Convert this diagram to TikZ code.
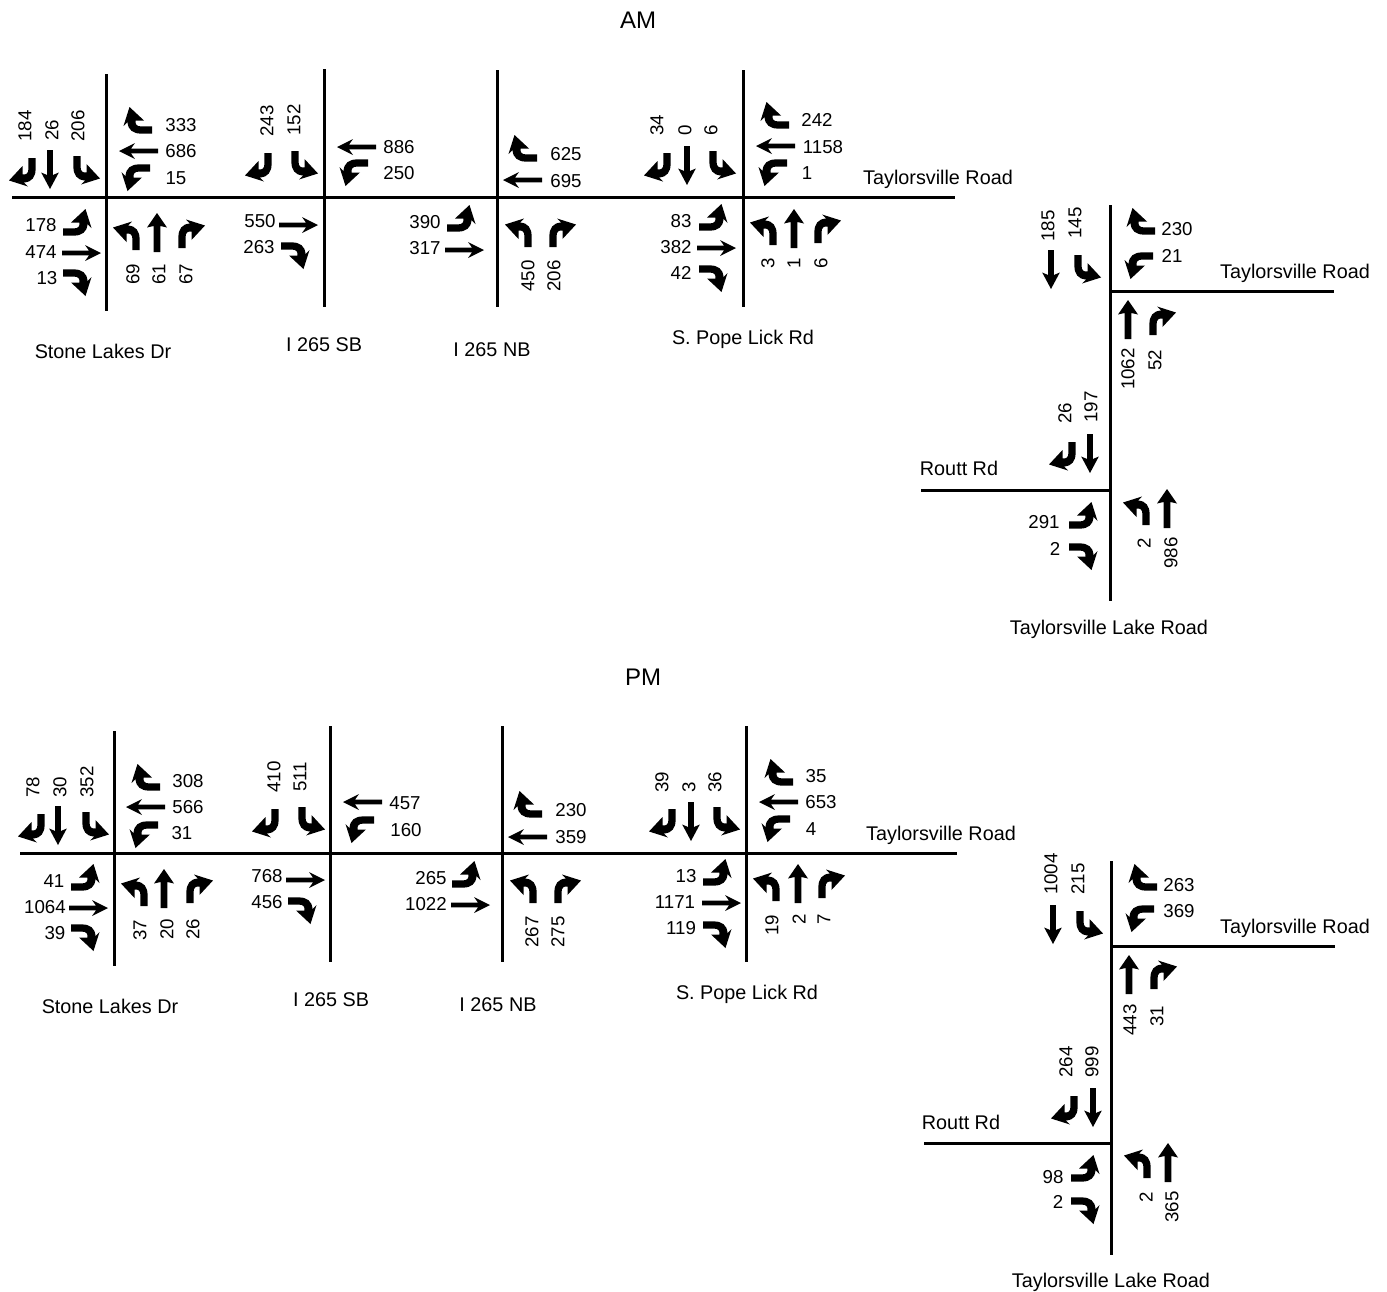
\documentclass[tikz,border=0pt]{standalone}
\usepackage{fontspec}
\setmainfont{Liberation Sans}
\tikzset{x=1pt,y=1pt,
 road/.style={line width=3pt,black},
 num/.style={inner sep=0pt,font=\fontsize{18.7}{20}\selectfont},
 vnum/.style={num,rotate=90},
 roadname/.style={inner sep=0pt,font=\fontsize{19.8}{22}\selectfont},
 titlelab/.style={inner sep=0pt,font=\fontsize{24}{26}\selectfont},
 tUR/.style={},
 tUL/.style={xscale=-1},
 tDR/.style={yscale=-1},
 tDL/.style={xscale=-1,yscale=-1},
 tLU/.style={rotate=90},
 tLD/.style={yscale=-1,rotate=90},
 tRU/.style={xscale=-1,rotate=90},
 tRD/.style={xscale=-1,yscale=-1,rotate=90},
 turnarrow/.pic={\fill (-3.6,0) -- (-3.6,11) .. controls (-3.6,19) and (0,24) .. (8,24.5) -- (4,28.5) -- (23,22.5) -- (9.5,8) -- (9.5,16.5) .. controls (5.5,17) and (3.6,15) .. (3.6,11) -- (3.6,0) -- cycle;},
 thickup/.pic={\fill (-3.4,0) -- (-3.4,26) -- (-10,24.5) -- (0,39) -- (10,24.5) -- (3.4,26) -- (3.4,0) -- cycle;},
 thindown/.pic={\fill (-2.9,0) -- (-2.9,-25) -- (-8.8,-22.5) -- (0,-39) -- (8.8,-22.5) -- (2.9,-25) -- (2.9,0) -- cycle;},
 thinright/.pic={\fill (0,-2.4) -- (27,-2.4) -- (23,-8) -- (39,0) -- (23,8) -- (27,2.4) -- (0,2.4) -- cycle;},
}
\newcommand\Tn[3]{\pic[t#1] at (#2,-#3) {turnarrow};}
\newcommand\Up[2]{\pic at (#1,-#2) {thickup};}
\newcommand\Dn[2]{\pic at (#1,-#2) {thindown};}
\newcommand\Ri[2]{\pic at (#1,-#2) {thinright};}
\newcommand\Le[2]{\pic[xscale=-1] at (#1,-#2) {thinright};}
\newcommand\Lb[3]{\node[num] at (#1,-#2) {#3};}
\newcommand\Vb[3]{\node[vnum] at (#1,-#2) {#3};}
\newcommand\Rn[3]{\node[roadname] at (#1,-#2) {#3};}
\begin{document}
\begin{tikzpicture}
\useasboundingbox (0,0) rectangle (1387,-1291);
\node[titlelab] (amtitle) at (638,-20) {AM};
\node[titlelab] (pmtitle) at (643,-677) {PM};
% ---------- AM roads
\draw[road] (12,-197.5) -- (955,-197.5);
\draw[road] (106,-74) -- (106,-311);
\draw[road] (324,-69) -- (324,-307);
\draw[road] (497,-70) -- (497,-307);
\draw[road] (743,-70) -- (743,-307);
\draw[road] (1110,-205) -- (1110,-601);
\draw[road] (1110,-291) -- (1334,-291);
\draw[road] (921,-490) -- (1110,-490);
\Rn{938}{179}{Taylorsville Road}
\Rn{103}{351}{Stone Lakes Dr}
\Rn{324}{344.5}{I 265 SB}
\Rn{492}{349.5}{I 265 NB}
\Rn{743}{339.5}{S. Pope Lick Rd}
\Rn{1295}{273}{Taylorsville Road}
\Rn{959}{468}{Routt Rd}
\Rn{1109}{629}{Taylorsville Lake Road}
% Stone Lakes AM
\Tn{DL}{32}{158}\Dn{50}{150}\Tn{DR}{77}{156}
\Vb{25}{126}{184}\Vb{52}{130}{26}\Vb{78}{126}{206}
\Tn{LU}{152}{130}\Le{158}{151}\Tn{LD}{150}{168}
\Lb{181}{125}{333}\Lb{181}{151}{686}\Lb{176}{178}{15}
\Tn{RU}{63}{232}\Ri{62}{253}\Tn{RD}{63}{273}
\Lb{41}{225}{178}\Lb{41}{252}{474}\Lb{47}{278}{13}
\Tn{UL}{136}{250}\Up{157}{252}\Tn{UR}{182}{248}
\Vb{133}{274}{69}\Vb{159}{274}{61}\Vb{186}{274}{67}
% SB AM
\Tn{DL}{268}{153}\Tn{DR}{295}{151}
\Vb{267}{121}{243}\Vb{294}{120}{152}
\Ri{279}{225}\Tn{RD}{281}{246}
\Lb{260}{221}{550}\Lb{259}{247}{263}
\Le{376}{147}\Tn{LD}{368}{163}
\Lb{399}{147}{886}\Lb{399}{173}{250}
% NB AM
\Tn{LU}{537}{158}\Le{542}{180}
\Lb{566}{154}{625}\Lb{566}{181}{695}
\Tn{RU}{447}{228}\Ri{445}{250}
\Lb{425}{222}{390}\Lb{425}{248}{317}
\Tn{UL}{528}{247}\Tn{UR}{553}{247}
\Vb{528}{276}{450}\Vb{554}{276}{206}
% Pope AM
\Tn{DL}{667}{153}\Dn{687}{146}\Tn{DR}{713}{151}
\Vb{657}{125}{34}\Vb{685}{130}{0}\Vb{711}{130}{6}
\Tn{LU}{789}{125}\Le{795}{146}\Tn{LD}{787}{163}
\Lb{817}{120}{242}\Lb{823}{147}{1158}\Lb{807}{173}{1}
\Tn{RU}{699}{227}\Ri{697}{248}\Tn{RD}{699}{269}
\Lb{681}{221}{83}\Lb{676}{247}{382}\Lb{681}{273}{42}
\Tn{UL}{773}{245}\Up{794}{248}\Tn{UR}{818}{243}
\Vb{768}{263}{3}\Vb{794}{263}{1}\Vb{821}{263}{6}
% right AM
\Dn{1051}{250}\Tn{DR}{1078}{255}
\Vb{1048}{226}{185}\Vb{1075}{223}{145}
\Tn{LU}{1155}{231}\Tn{LD}{1153}{256}
\Lb{1177}{229}{230}\Lb{1172}{256}{21}
\Up{1128}{339}\Tn{UR}{1153}{335}
\Vb{1128}{369}{1062}\Vb{1155}{360}{52}
\Tn{DL}{1072}{442}\Dn{1090}{434}
\Vb{1065}{413}{26}\Vb{1091}{407}{197}
\Tn{RU}{1069}{525}\Tn{RD}{1069}{547}
\Lb{1044}{522}{291}\Lb{1055}{549}{2}
\Tn{UL}{1146}{525}\Up{1167}{528}
\Vb{1144}{543}{2}\Vb{1171}{553}{986}
% ---------- PM roads
\draw[road] (20,-853.5) -- (957,-853.5);
\draw[road] (114,-731) -- (114,-966);
\draw[road] (330,-726) -- (330,-962);
\draw[road] (502,-726) -- (502,-962);
\draw[road] (746.5,-726) -- (746.5,-962);
\draw[road] (1111,-861) -- (1111,-1255);
\draw[road] (1111,-946) -- (1335,-946);
\draw[road] (924,-1143) -- (1111,-1143);
\Rn{941}{835}{Taylorsville Road}
\Rn{110}{1006}{Stone Lakes Dr}
\Rn{331}{999.5}{I 265 SB}
\Rn{498}{1004.5}{I 265 NB}
\Rn{747}{994.5}{S. Pope Lick Rd}
\Rn{1295}{928}{Taylorsville Road}
\Rn{961}{1122}{Routt Rd}
\Rn{1111}{1282}{Taylorsville Lake Road}
% Stone PM
\Tn{DL}{41}{814}\Dn{58}{806}\Tn{DR}{86}{812}
\Vb{33}{787}{78}\Vb{60}{787}{30}\Vb{87}{782}{352}
\Tn{LU}{160}{787}\Le{165}{807}\Tn{LD}{158}{825}
\Lb{188}{781}{308}\Lb{188}{807}{566}\Lb{182}{833}{31}
\Tn{RU}{71}{887}\Ri{69}{908}\Tn{RD}{71}{928}
\Lb{54}{881}{41}\Lb{45}{907}{1064}\Lb{55}{933}{39}
\Tn{UL}{144}{906}\Up{164}{908}\Tn{UR}{190}{903}
\Vb{140}{930}{37}\Vb{167}{929}{20}\Vb{193}{929}{26}
% SB PM
\Tn{DL}{275}{809}\Tn{DR}{302}{807}
\Vb{274}{777}{410}\Vb{300}{777}{511}
\Ri{286}{880}\Tn{RD}{288}{901}
\Lb{267}{876}{768}\Lb{267}{902}{456}
\Le{382}{802}\Tn{LD}{374}{820}
\Lb{405}{803}{457}\Lb{406}{830}{160}
% NB PM
\Tn{LU}{542}{814}\Le{547}{837}
\Lb{571}{810}{230}\Lb{571}{837}{359}
\Tn{RU}{452}{884}\Ri{451}{905}
\Lb{431}{878}{265}\Lb{426}{904}{1022}
\Tn{UL}{533}{903}\Tn{UR}{558}{903}
\Vb{532}{932}{267}\Vb{558}{932}{275}
% Pope PM
\Tn{DL}{672}{809}\Dn{691}{802}\Tn{DR}{717}{807}
\Vb{662}{782}{39}\Vb{689}{787}{3}\Vb{715}{782}{36}
\Tn{LU}{793}{782}\Le{798}{802}\Tn{LD}{790}{819}
\Lb{816}{776}{35}\Lb{821}{802}{653}\Lb{811}{829}{4}
\Tn{RU}{703}{882}\Ri{702}{903}\Tn{RD}{703}{925}
\Lb{686}{876}{13}\Lb{675}{902}{1171}\Lb{681}{928}{119}
\Tn{UL}{776}{901}\Up{798}{903}\Tn{UR}{822}{898}
\Vb{772}{925}{19}\Vb{799}{919}{2}\Vb{824}{919}{7}
% right PM
\Dn{1053}{905}\Tn{DR}{1080}{911}
\Vb{1051}{874}{1004}\Vb{1078}{879}{215}
\Tn{LU}{1157}{887}\Tn{LD}{1154}{909}
\Lb{1179}{885}{263}\Lb{1179}{911}{369}
\Up{1129}{994}\Tn{UR}{1154}{989}
\Vb{1130}{1020}{443}\Vb{1157}{1016}{31}
\Tn{DL}{1074}{1096}\Dn{1093}{1088}
\Vb{1066}{1062}{264}\Vb{1092}{1062}{999}
\Tn{RU}{1071}{1178}\Tn{RD}{1071}{1201}
\Lb{1053}{1177}{98}\Lb{1058}{1202}{2}
\Tn{UL}{1147}{1178}\Up{1168}{1182}
\Vb{1146}{1197}{2}\Vb{1172}{1207}{365}
\end{tikzpicture}
\end{document}
